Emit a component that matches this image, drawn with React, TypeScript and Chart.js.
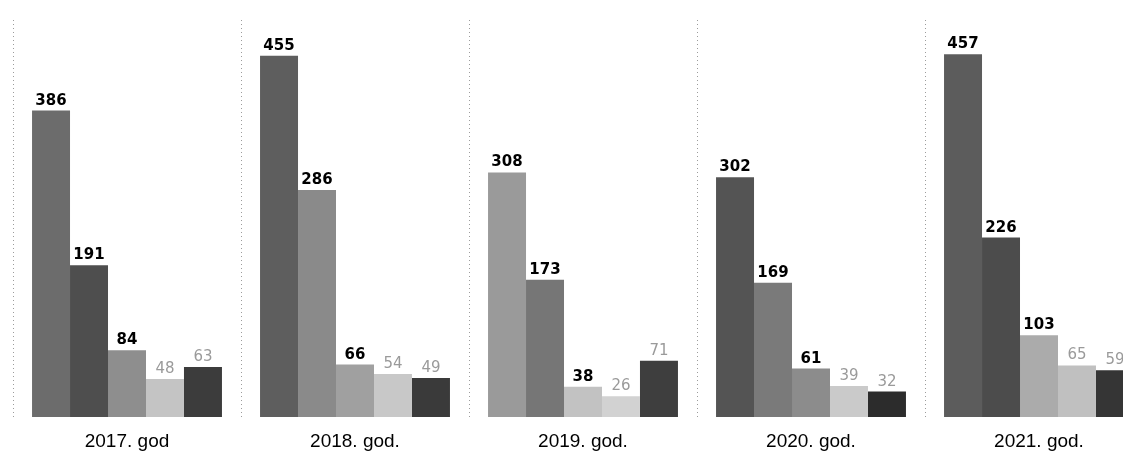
import React, { useEffect, useRef } from "react";
import { Chart, registerables } from "chart.js";

Chart.register(...registerables);

const categories = ["2017. god", "2018. god.", "2019. god.", "2020. god.", "2021. god."];
const series1 = [386, 455, 308, 302, 457];
const series2 = [191, 286, 173, 169, 226];
const series3 = [84, 66, 38, 61, 103];
const series4 = [48, 54, 26, 39, 65];
const series5 = [63, 49, 71, 32, 59];

const colors1 = ["#6c6c6c", "#5e5e5e", "#9a9a9a", "#545454", "#5c5c5c"];
const colors2 = ["#4e4e4e", "#8a8a8a", "#767676", "#7a7a7a", "#4c4c4c"];
const colors3 = ["#8e8e8e", "#a0a0a0", "#c2c2c2", "#8c8c8c", "#ababab"];
const colors4 = ["#c4c4c4", "#c8c8c8", "#d2d2d2", "#cacaca", "#c0c0c0"];
const colors5 = ["#3c3c3c", "#3a3a3a", "#3e3e3e", "#2c2c2c", "#353535"];

const labelPlugin = {
  id: "valueLabels",
  afterDatasetsDraw(chart: any) {
    const ctx = chart.ctx;
    ctx.save();
    ctx.textAlign = "center";
    ctx.textBaseline = "alphabetic";
    chart.data.datasets.forEach((ds: any, i: number) => {
      const meta = chart.getDatasetMeta(i);
      meta.data.forEach((bar: any, j: number) => {
        const v = ds.data[j];
        if (i < 3) {
          ctx.font = "bold 15px 'DejaVu Sans'";
          ctx.fillStyle = "#000";
        } else {
          ctx.font = "15px 'DejaVu Sans'";
          ctx.fillStyle = "#9a9a9a";
        }
        ctx.fillText(String(v), bar.x, bar.y - 6);
      });
    });
    ctx.restore();
  },
};

export default function App() {
  const ref = useRef<HTMLCanvasElement | null>(null);
  useEffect(() => {
    document.body.style.margin = "0";
    document.body.style.overflow = "hidden";
    const canvas = ref.current!;
    const chart = new Chart(canvas, {
      type: "bar",
      data: {
        labels: categories,
        datasets: [
          { data: series1, backgroundColor: colors1 },
          { data: series2, backgroundColor: colors2 },
          { data: series3, backgroundColor: colors3 },
          { data: series4, backgroundColor: colors4 },
          { data: series5, backgroundColor: colors5 },
        ],
      },
      options: {
        responsive: false,
        animation: false,
        layout: { padding: { left: 13, right: 7, top: 20, bottom: 0 } },
        datasets: { bar: { barPercentage: 1, categoryPercentage: 0.833 } },
        plugins: { legend: { display: false }, tooltip: { enabled: false } },
        scales: {
          x: {
            afterFit: (scale: any) => {
              scale.height = 41;
            },
            grid: {
              display: true,
              offset: true,
              drawTicks: false,
              color: "#9c9c9c",
              lineWidth: 1,
            },
            border: { display: false, dash: [1, 3] },
            ticks: {
              color: "#000",
              padding: 13,
              maxRotation: 0,
              font: { family: "'Liberation Sans', Arial", size: 19 },
            },
          },
          y: {
            display: false,
            min: 0,
            max: 500,
          },
        },
      },
      plugins: [labelPlugin],
    });
    return () => chart.destroy();
  }, []);
  return (
    <div style={{ width: 1123, height: 458, overflow: "hidden", position: "relative" }}>
      <canvas ref={ref} width={1160} height={458} style={{ width: 1160, height: 458, display: "block" }} />
    </div>
  );
}
